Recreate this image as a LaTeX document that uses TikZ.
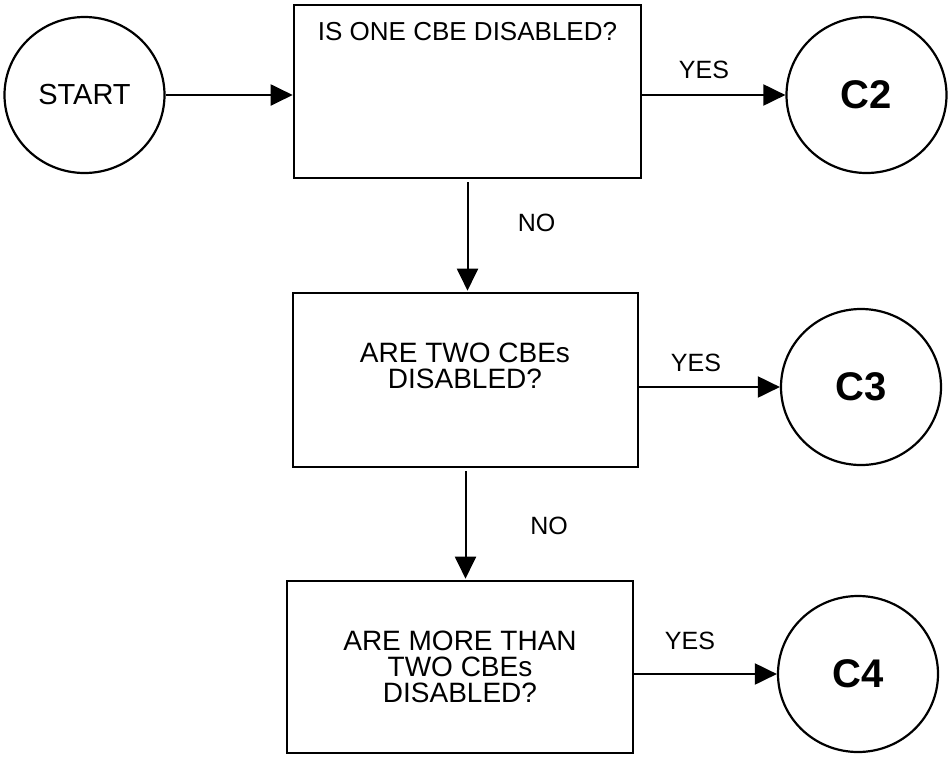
\documentclass[tikz,border=0pt]{standalone}
\usepackage{fontspec}
\setmainfont{Liberation Sans}
\usetikzlibrary{arrows.meta,shapes.geometric}

\begin{document}
\begin{tikzpicture}[
  x=1pt,y=-1pt,
  every node/.style={font=\fontsize{25}{26}\selectfont},
  term/.style={ellipse,draw,line width=2.2pt,minimum width=160pt,
    minimum height=156pt,inner sep=0pt},
  endpt/.style={term,font=\fontsize{40}{42}\selectfont\bfseries},
  query/.style={rectangle,draw,line width=2.6pt,inner sep=0pt},
  qtext/.style={align=center,inner sep=0pt,font=\fontsize{28}{26}\selectfont},
  arrow/.style={-{Triangle[length=22pt,width=21pt]},line width=2pt}
]
\useasboundingbox (0,0) rectangle (948,756);
\node[term,font=\fontsize{29}{30}\selectfont] (start) at (84.5,95) {START};
\node[query,minimum width=347pt,text height=35pt,text depth=138pt,
  font=\fontsize{26}{26}\selectfont] (q1) at (467.5,91.5) {IS ONE CBE DISABLED?};
\node[endpt] (c2) at (866.5,95) {C2};
\node[query,minimum width=345pt,minimum height=174pt] (q2) at (465.5,380) {};
\node[qtext] (q2t) at (465,366) {ARE TWO CBEs\\DISABLED?};
\node[endpt] (c3) at (861,387) {C3};
\node[query,qtext,minimum width=346pt,minimum height=172pt] (q3) at (460,667)
  {ARE MORE THAN\\TWO CBEs\\DISABLED?};
\node[endpt] (c4) at (858,674) {C4};
% answer labels
\node (yes1) at (704,70) {YES};
\node (no1) at (536.5,222.5) {NO};
\node (yes2) at (696,363) {YES};
\node (no2) at (549,525.5) {NO};
\node (yes3) at (690,641) {YES};
\draw[arrow] (start.east) -- (start.east -| q1.west);
\draw[arrow] (q1.east |- c2) -- (c2.west);
\draw[arrow,shorten <=3pt,shorten >=1pt] (q1.south) -- (q1.south |- q2.north);
\draw[arrow] (q2.east |- c3) -- (c3.west);
\draw[arrow,shorten <=3pt,shorten >=1pt] (q2.south) -- (q2.south |- q3.north);
\draw[arrow] (q3.east |- c4) -- (c4.west);
\end{tikzpicture}
\end{document}
